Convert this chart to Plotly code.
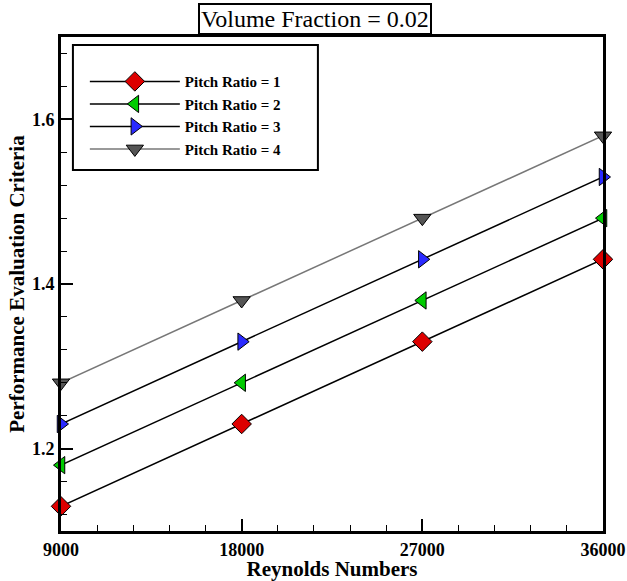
import plotly.graph_objects as go

reynolds = [9000, 18000, 27000, 36000]
pr1 = [1.13, 1.23, 1.33, 1.43]
pr2 = [1.18, 1.28, 1.38, 1.48]
pr3 = [1.23, 1.33, 1.43, 1.53]
pr4 = [1.28, 1.38, 1.48, 1.58]
names = ["Pitch Ratio = 1", "Pitch Ratio = 2", "Pitch Ratio = 3", "Pitch Ratio = 4"]
x_ticks = [9000, 18000, 27000, 36000]
x_ticktext = ["9000", "18000", "27000", "36000"]
y_ticks = [1.2, 1.4, 1.6]
y_ticktext = ["1.2", "1.4", "1.6"]

series = [pr1, pr2, pr3, pr4]
colors = ["#dd0000", "#00cc00", "#2a2aff", "#555555"]
symbols = ["diamond", "triangle-left", "triangle-right", "triangle-down"]
linecolors = ["black", "black", "black", "#777777"]

FONT = "Liberation Serif"
TITLE_FONT = "Times New Roman, Liberation Serif, serif"
fig = go.Figure()
for vals, name, c, s, lc in zip(series, names, colors, symbols, linecolors):
    fig.add_trace(go.Scatter(
        x=reynolds, y=vals, name=name, mode="lines+markers",
        line=dict(color=lc, width=1.5),
        marker=dict(symbol=s, size=15, color=c, line=dict(color="black", width=1)),
        cliponaxis=False,
    ))

fig.update_layout(
    width=627, height=581,
    margin=dict(l=61, r=24, t=37, b=50, autoexpand=False),
    paper_bgcolor="white", plot_bgcolor="white",
    font=dict(family=FONT, color="black"),
    showlegend=True,
    legend=dict(
        x=0.044, y=0.943, xanchor="left", yanchor="top",
        borderwidth=0, bgcolor="rgba(0,0,0,0)",
        font=dict(family=FONT, size=15, weight="bold", color="black"),
        tracegroupgap=0, itemwidth=90,
    ),
    shapes=[dict(
        type="rect", xref="paper", yref="paper",
        x0=0.022, x1=0.474, y0=0.731, y1=0.984,
        line=dict(color="black", width=2), fillcolor="white", layer="below",
    )],
    annotations=[dict(
        text="Volume Fraction = 0.02", xref="paper", yref="paper",
        x=0.4686, y=1.0, yshift=18, xanchor="center", yanchor="middle",
        showarrow=False, font=dict(family=TITLE_FONT, size=24, color="black", weight="normal"),
        bordercolor="black", borderwidth=2, borderpad=1, bgcolor="white",
    )],
)

fig.update_xaxes(
    range=[9000, 36000], tickvals=x_ticks, ticktext=x_ticktext,
    ticks="inside", ticklen=12, tickwidth=2, tickcolor="black",
    minor=dict(dtick=1800, ticks="inside", ticklen=6, tickwidth=1, tickcolor="black"),
    showline=True, linewidth=3, linecolor="black", mirror=True,
    showgrid=False, zeroline=False,
    tickfont=dict(family=FONT, size=18, weight="bold", color="black"),
    title=dict(text="Reynolds Numbers", font=dict(family=FONT, size=21, weight="bold", color="black"), standoff=0),
)
fig.update_yaxes(
    range=[1.1, 1.7], tickvals=y_ticks, ticktext=y_ticktext,
    ticks="inside", ticklen=12, tickwidth=2, tickcolor="black",
    minor=dict(dtick=0.04, tick0=1.2, ticks="inside", ticklen=6, tickwidth=1, tickcolor="black"),
    showline=True, linewidth=3, linecolor="black", mirror=True,
    showgrid=False, zeroline=False,
    tickfont=dict(family=FONT, size=18, weight="bold", color="black"),
    title=dict(text="Performance Evaluation Criteria", font=dict(family=FONT, size=21, weight="bold", color="black"), standoff=2),
)

fig.write_html("out.html")
